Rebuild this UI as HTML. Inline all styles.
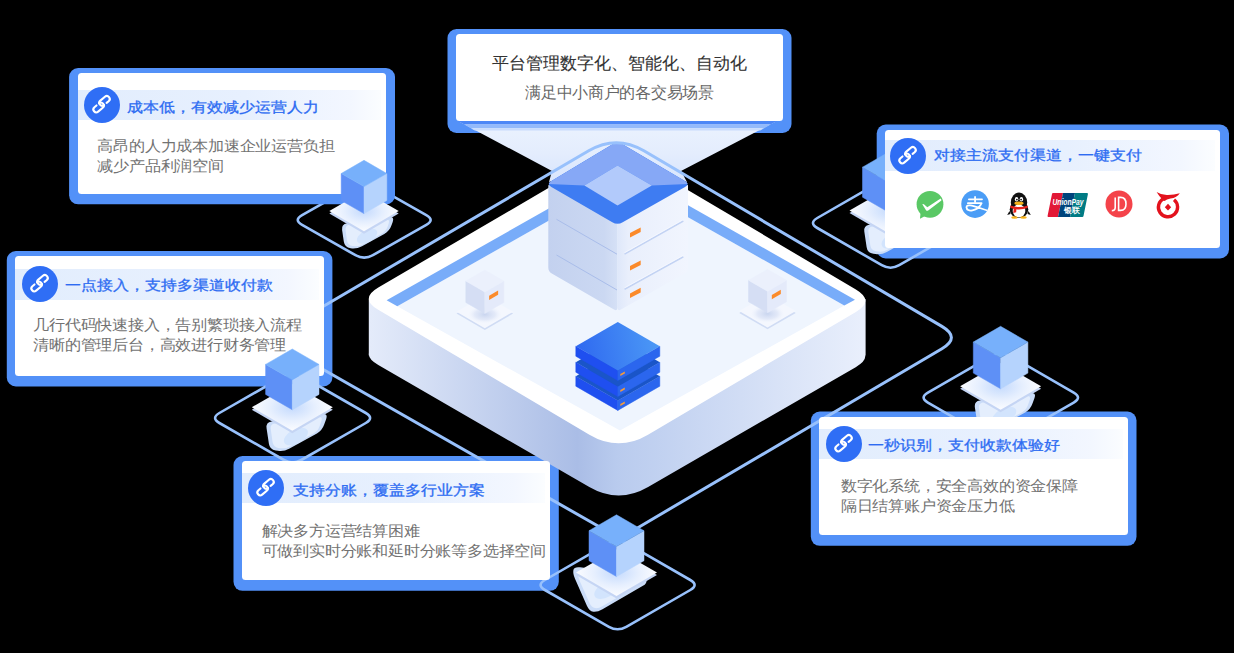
<!DOCTYPE html><html><head><meta charset="utf-8"><style>
*{margin:0;padding:0;box-sizing:border-box}
html,body{width:1234px;height:653px;overflow:hidden;background:#000}
body{position:relative;font-family:"Liberation Sans",sans-serif}
svg.L{position:absolute;left:0;top:0}
.glow{position:absolute;background:#5391f8;border-radius:9px}
.card{position:absolute;background:#fff;border-radius:3.5px;overflow:hidden}
.band{position:absolute;left:0;right:5px;background:linear-gradient(90deg,#e2edfd 0%,#e7f0fe 55%,#f3f7ff 90%,#fbfdff 100%)}
.ic{position:absolute;width:36px;height:36px}
.ic svg{display:block}
.title{position:absolute;white-space:nowrap;color:#2d6cf2;font-size:16px;line-height:22px;-webkit-text-stroke:0.35px #2d6cf2;transform:scaleY(0.88);transform-origin:0 50%}
.body{position:absolute;white-space:nowrap;color:#727272;font-size:16px;line-height:21.9px;letter-spacing:-0.2px;transform:scaleY(0.93);transform-origin:0 0}
.tt{position:absolute;left:0;right:0;top:19px;text-align:center;color:#333;font-size:17px;line-height:22px;-webkit-text-stroke:0.1px #333}
.ts{position:absolute;left:0;right:0;top:49px;text-align:center;color:#666;font-size:15.6px;line-height:20px;letter-spacing:-0.3px}
</style></head><body><svg class="L" width="1234" height="653" viewBox="0 0 1234 653"><defs><radialGradient id="wshadow"><stop offset="0" stop-color="#c9d5ef"/><stop offset="0.6" stop-color="#dbe3f6" stop-opacity="0.7"/><stop offset="1" stop-color="#eef3fd" stop-opacity="0"/></radialGradient><radialGradient id="slabg" cx="0.5" cy="0.5" r="0.5"><stop offset="0" stop-color="#c4dafd"/><stop offset="0.55" stop-color="#e6effe"/><stop offset="1" stop-color="#fbfcff"/></radialGradient><linearGradient id="side" x1="370" y1="0" x2="864" y2="0" gradientUnits="userSpaceOnUse"><stop offset="0" stop-color="#e4ebfa"/><stop offset="0.42" stop-color="#aabde6"/><stop offset="0.5" stop-color="#b9cbee"/><stop offset="1" stop-color="#e9effc"/></linearGradient><linearGradient id="beam" x1="0" y1="130" x2="0" y2="175" gradientUnits="userSpaceOnUse"><stop offset="0" stop-color="#e9f1fe"/><stop offset="0.5" stop-color="#e4edfd"/><stop offset="1" stop-color="#dbe7fd"/></linearGradient><linearGradient id="srvL" x1="548" y1="0" x2="618" y2="0" gradientUnits="userSpaceOnUse"><stop offset="0" stop-color="#c3d1ef"/><stop offset="0.8" stop-color="#cbd8f2"/><stop offset="1" stop-color="#d6e1f6"/></linearGradient><linearGradient id="srvR" x1="618" y1="0" x2="688" y2="0" gradientUnits="userSpaceOnUse"><stop offset="0" stop-color="#dfe8fa"/><stop offset="0.15" stop-color="#e9effc"/><stop offset="1" stop-color="#f1f5fe"/></linearGradient><clipPath id="srvtop"><path d="M622.7,144.2 L685.0,181.0 Q690.2,184.0 685.0,187.0 L622.7,222.3 Q617.5,225.3 612.3,222.3 L551.4,187.0 Q546.2,184.0 551.3,180.9 L612.4,144.3 Q617.5,141.2 622.7,144.2 Z"/></clipPath><linearGradient id="bsT" x1="576" y1="346" x2="660" y2="330" gradientUnits="userSpaceOnUse"><stop offset="0" stop-color="#2f69f0"/><stop offset="1" stop-color="#4d9bf6"/></linearGradient></defs><rect x="447.5" y="29.0" width="344.0" height="104.0" rx="9" fill="#5391f8"/><rect x="876.7" y="124.5" width="352.3" height="134.0" rx="9" fill="#5391f8"/><rect x="6.8" y="251.0" width="325.6" height="135.5" rx="9" fill="#5391f8"/><rect x="233.5" y="456.0" width="325.3" height="134.8" rx="9" fill="#5391f8"/><rect x="810.8" y="411.5" width="325.7" height="134.3" rx="9" fill="#5391f8"/><path d="M635.7,214.7 L855.9,345.0 Q874.8,356.2 855.7,367.2 L648.1,487.0 Q618.7,504.0 589.3,487.0 L378.3,365.1 Q359.3,354.1 378.3,343.0 L597.8,214.6 Q616.8,203.5 635.7,214.7 Z" fill="url(#side)"/><rect x="368.8" y="299" width="496.8" height="56.5" fill="url(#side)"/><path d="M635.7,159.2 L855.9,289.5 Q874.8,300.7 855.9,311.9 L648.0,434.7 Q618.7,452.0 589.4,434.7 L378.2,309.8 Q359.3,298.6 378.3,287.5 L597.8,159.1 Q616.8,148.0 635.7,159.2 Z" fill="#ffffff"/><polygon points="397.3,306.3 621.3,179.5 844.3,305.6 620.0,430.5" fill="#eff5fe"/><polygon points="386.6,300.3 621.3,167.5 855.0,299.7 844.3,305.6 621.3,179.5 397.3,306.3" fill="#78acf9"/><polygon points="484.8,297.2 513.1,313.6 484.8,330.0 456.5,313.6" fill="#d0dcf4"/><polygon points="484.8,295.4 513.1,311.8 484.8,328.2 456.5,311.8" fill="#f4f7fe"/><ellipse cx="484.8" cy="314.4393" rx="17" ry="9" fill="url(#wshadow)"/><polygon points="465.8,281.0 484.8,291.9 484.8,313.4 465.8,302.5" fill="#d5def4" stroke="#d5def4" stroke-width="0.5" stroke-linejoin="round"/><polygon points="484.8,291.9 503.8,281.0 503.8,302.5 484.8,313.4" fill="#e4eafa" stroke="#e4eafa" stroke-width="0.5" stroke-linejoin="round"/><polygon points="484.8,270.0 503.8,281.0 484.8,291.9 465.8,281.0" fill="#ebf0fc" stroke="#ebf0fc" stroke-width="0.5" stroke-linejoin="round"/><polygon points="489.1,300.0 498.1,294.8 498.1,290.5 489.1,295.7" fill="#fb8b2b"/><polygon points="767.5,296.5 795.8,312.9 767.5,329.3 739.2,312.9" fill="#d0dcf4"/><polygon points="767.5,294.7 795.8,311.1 767.5,327.5 739.2,311.1" fill="#f4f7fe"/><ellipse cx="767.5" cy="313.7393" rx="17" ry="9" fill="url(#wshadow)"/><polygon points="748.5,280.3 767.5,291.2 767.5,312.7 748.5,301.8" fill="#d5def4" stroke="#d5def4" stroke-width="0.5" stroke-linejoin="round"/><polygon points="767.5,291.2 786.5,280.3 786.5,301.8 767.5,312.7" fill="#e4eafa" stroke="#e4eafa" stroke-width="0.5" stroke-linejoin="round"/><polygon points="767.5,269.3 786.5,280.3 767.5,291.2 748.5,280.3" fill="#ebf0fc" stroke="#ebf0fc" stroke-width="0.5" stroke-linejoin="round"/><polygon points="771.8,299.3 780.8,294.1 780.8,289.8 771.8,295.0" fill="#fb8b2b"/><polygon points="459.0,121.5 776.0,121.5 681.0,171.0 687.0,182.0 617.0,165.0 549.0,182.0 552.0,171.0" fill="url(#beam)"/><polygon points="458,121 777,121 770.6,124.6 464.4,124.6" fill="#4c87f6"/><polygon points="464.4,124.6 770.6,124.6 764.2,128.2 470.8,128.2" fill="#93bafb"/><polygon points="470.8,128.2 764.2,128.2 760.3,130.4 474.7,130.4" fill="#c9dcfc"/><path d="M550.0,185.0 L617.5,223.9 Q617.5,223.9 617.5,223.9 L617.5,307.5 Q617.5,311.5 614.0,309.5 L551.8,273.6 Q548.3,271.6 548.3,267.6 L548.3,186.0 Q548.3,184.0 550.0,185.0 Z" fill="url(#srvL)"/><path d="M617.5,223.9 L686.3,185.0 Q688.0,184.0 688.0,186.0 L688.0,267.6 Q688.0,271.6 684.5,273.6 L621.0,309.5 Q617.5,311.5 617.5,307.5 L617.5,223.9 Q617.5,223.9 617.5,223.9 Z" fill="url(#srvR)"/><line x1="556.5" y1="219.3" x2="617" y2="254.2" stroke="#a9bdea" stroke-width="1"/><line x1="624.5" y1="254.10000000000002" x2="683.3" y2="221.0" stroke="#c3d3f3" stroke-width="1.6"/><line x1="624.5" y1="252.70000000000002" x2="683.3" y2="219.6" stroke="#f6f9ff" stroke-width="0.8"/><line x1="556.5" y1="255" x2="617" y2="290" stroke="#a9bdea" stroke-width="1"/><line x1="624.5" y1="289.3" x2="683.3" y2="256.8" stroke="#c3d3f3" stroke-width="1.6"/><line x1="624.5" y1="287.9" x2="683.3" y2="255.4" stroke="#f6f9ff" stroke-width="0.8"/><polygon points="630.0,237.6 630.0,233.0 640.7,227.4 640.7,232.0" fill="#fb8a2a"/><polygon points="630.0,270.6 630.0,266.0 640.7,260.4 640.7,265.0" fill="#fb8a2a"/><polygon points="630.0,298.0 630.0,293.4 640.7,287.8 640.7,292.4" fill="#fb8a2a"/><path d="M622.7,144.2 L685.0,181.0 Q690.2,184.0 685.0,187.0 L622.7,222.3 Q617.5,225.3 612.3,222.3 L551.4,187.0 Q546.2,184.0 551.3,180.9 L612.4,144.3 Q617.5,141.2 622.7,144.2 Z" fill="#3e7cf2"/><polygon points="546.2,184.0 617.5,141.2 690.2,184.0 651.8,185.5 617.5,165.6 584.4,185.5" fill="#86a8f6" clip-path="url(#srvtop)"/><polygon points="617.5,165.6 651.8,185.5 617.5,205.4 584.4,185.5" fill="#b2cafb"/><polygon points="575.8,376.2 617.8,400.4 617.8,410.4 575.8,386.2" fill="#1f4ff0" stroke="#1f4ff0" stroke-width="0.5"/><polygon points="617.8,400.4 659.8,376.2 659.8,386.2 617.8,410.4" fill="#2b66ee" stroke="#2b66ee" stroke-width="0.5"/><polygon points="617.8,352.0 659.8,376.2 617.8,400.4 575.8,376.2" fill="#1a55c8"/><polygon points="620.3,406.1 624.8,403.5 624.8,401.5 620.3,404.1" fill="#f29a3c"/><polygon points="575.8,362.2 617.8,386.4 617.8,396.4 575.8,372.2" fill="#1f4ff0" stroke="#1f4ff0" stroke-width="0.5"/><polygon points="617.8,386.4 659.8,362.2 659.8,372.2 617.8,396.4" fill="#2b66ee" stroke="#2b66ee" stroke-width="0.5"/><polygon points="617.8,338.0 659.8,362.2 617.8,386.4 575.8,362.2" fill="#1a55c8"/><polygon points="620.3,392.1 624.8,389.5 624.8,387.5 620.3,390.1" fill="#f29a3c"/><polygon points="575.8,346.2 617.8,370.4 617.8,380.4 575.8,356.2" fill="#1f4ff0" stroke="#1f4ff0" stroke-width="0.5"/><polygon points="617.8,370.4 659.8,346.2 659.8,356.2 617.8,380.4" fill="#2b66ee" stroke="#2b66ee" stroke-width="0.5"/><polygon points="617.8,322.0 659.8,346.2 617.8,370.4 575.8,346.2" fill="url(#bsT)"/><polygon points="620.3,376.1 624.8,373.5 624.8,371.5 620.3,374.1" fill="#f29a3c"/><path d="M643.9,150.8 L941.9,326.4 Q960.9,337.6 941.9,348.8 L638.7,527.2 Q619.7,538.4 600.6,527.5 L287.7,349.3 Q268.6,338.4 287.6,327.3 L588.7,150.8 Q616.3,134.6 643.9,150.8 Z" fill="none" stroke="#98c1fc" stroke-width="3"/><path d="M372.9,184.8 L426.3,215.1 Q435.0,220.0 426.3,224.9 L372.9,255.2 Q364.2,260.1 355.5,255.2 L302.1,224.9 Q293.4,220.0 302.1,215.1 L355.5,184.8 Q364.2,179.9 372.9,184.8 Z" fill="none" stroke="#98c1fc" stroke-width="2.6"/><path d="M899.2,180.8 L963.7,218.0 Q972.3,223.0 963.7,228.0 L899.2,265.2 Q890.5,270.2 881.8,265.2 L817.3,228.0 Q808.7,223.0 817.3,218.0 L881.8,180.8 Q890.5,175.8 899.2,180.8 Z" fill="none" stroke="#98c1fc" stroke-width="2.6"/><path d="M301.3,376.0 L365.8,413.0 Q374.4,418.0 365.8,423.0 L301.3,460.0 Q292.6,465.0 283.9,460.0 L219.4,423.0 Q210.8,418.0 219.4,413.0 L283.9,376.0 Q292.6,371.0 301.3,376.0 Z" fill="none" stroke="#98c1fc" stroke-width="2.6"/><path d="M626.3,543.2 L690.3,580.0 Q698.9,585.0 690.3,590.0 L626.3,626.8 Q617.6,631.8 608.9,626.8 L544.9,590.0 Q536.3,585.0 544.9,580.0 L608.9,543.2 Q617.6,538.2 626.3,543.2 Z" fill="none" stroke="#98c1fc" stroke-width="2.6"/><path d="M1009.5,355.6 L1073.7,392.6 Q1082.3,397.6 1073.7,402.6 L1009.5,439.6 Q1000.8,444.6 992.1,439.6 L927.9,402.6 Q919.3,397.6 927.9,392.6 L992.1,355.6 Q1000.8,350.6 1009.5,355.6 Z" fill="none" stroke="#98c1fc" stroke-width="2.6"/><rect x="69.1" y="68.0" width="325.9" height="136.3" rx="9" fill="#5391f8"/><path d="M869.3,224.8 L919.9,217.5 Q925.9,216.6 923.9,222.3 L921.8,228.1 Q919.8,233.7 914.6,236.6 L886.8,252.0 Q881.5,254.9 875.6,254.0 L873.4,253.7 Q867.4,252.9 866.6,246.9 L864.3,231.6 Q863.4,225.7 869.3,224.8 Z" fill="#cadcf8"/><path d="M872.6,226.6 L915.8,220.3 Q920.7,219.6 919.1,224.3 L917.3,229.5 Q915.6,234.2 911.2,236.6 L887.4,249.7 Q883.0,252.2 878.1,251.5 L876.0,251.2 Q871.1,250.4 870.3,245.5 L868.4,232.3 Q867.6,227.3 872.6,226.6 Z" fill="#e4eefd"/><ellipse cx="893.6" cy="239.8" rx="13.1" ry="7.1" fill="#d2e4fd" transform="rotate(-28 893.6 239.8)"/><polygon points="890.0,189.7 930.5,213.1 890.0,236.4 849.5,213.1" fill="#c5d5f4"/><polygon points="890.0,187.2 930.5,210.6 890.0,233.9 849.5,210.6" fill="url(#slabg)"/><polygon points="862.5,167.2 890.0,183.1 890.0,213.1 862.5,197.2" fill="#5e90f6" stroke="#5e90f6" stroke-width="0.5" stroke-linejoin="round"/><polygon points="890.0,183.1 917.5,167.2 917.5,197.2 890.0,213.1" fill="#b5d3fd" stroke="#b5d3fd" stroke-width="0.5" stroke-linejoin="round"/><polygon points="890.0,151.3 917.5,167.2 890.0,183.1 862.5,167.2" fill="#77b0fb" stroke="#77b0fb" stroke-width="0.5" stroke-linejoin="round"/><path d="M979.9,400.6 L1030.5,393.2 Q1036.5,392.4 1034.5,398.0 L1032.4,403.8 Q1030.4,409.5 1025.2,412.4 L997.4,427.7 Q992.1,430.7 986.2,429.8 L984.0,429.5 Q978.0,428.6 977.2,422.7 L974.9,407.4 Q974.0,401.4 979.9,400.6 Z" fill="#cadcf8"/><path d="M983.2,402.4 L1026.4,396.1 Q1031.3,395.4 1029.7,400.1 L1027.9,405.2 Q1026.2,409.9 1021.8,412.4 L998.0,425.5 Q993.6,427.9 988.7,427.2 L986.6,426.9 Q981.7,426.2 980.9,421.3 L979.0,408.0 Q978.2,403.1 983.2,402.4 Z" fill="#e4eefd"/><ellipse cx="1004.2" cy="415.5" rx="13.1" ry="7.1" fill="#d2e4fd" transform="rotate(-28 1004.2 415.5)"/><polygon points="1000.6,365.4 1041.1,388.8 1000.6,412.2 960.1,388.8" fill="#c5d5f4"/><polygon points="1000.6,362.9 1041.1,386.3 1000.6,409.7 960.1,386.3" fill="url(#slabg)"/><polygon points="973.3,342.1 1000.6,357.8 1000.6,388.8 973.3,373.1" fill="#5e90f6" stroke="#5e90f6" stroke-width="0.5" stroke-linejoin="round"/><polygon points="1000.6,357.8 1027.9,342.1 1027.9,373.1 1000.6,388.8" fill="#b5d3fd" stroke="#b5d3fd" stroke-width="0.5" stroke-linejoin="round"/><polygon points="1000.6,326.3 1027.9,342.1 1000.6,357.8 973.3,342.1" fill="#77b0fb" stroke="#77b0fb" stroke-width="0.5" stroke-linejoin="round"/></svg><div class="card" style="left:456.0px;top:34.0px;width:327.0px;height:87.0px"><div class="tt">平台管理数字化、智能化、自动化</div><div class="ts">满足中小商户的各交易场景</div></div><div class="card" style="left:77.6px;top:73.0px;width:308.9px;height:120.8px"><div class="band" style="top:16.7px;height:30.2px"></div><div class="ic" style="left:6.4px;top:14.2px"><svg class="lk" width="36" height="36" viewBox="0 0 36 36"><circle cx="18" cy="18" r="18" fill="#2f6ef5"/><g fill="none" stroke="#fff" stroke-width="2.1" stroke-linecap="round"><path transform="translate(20.5 13.9) rotate(-40)" d="M0.3,2.9 H3 A2.9,2.9 0 0 0 3,-2.9 H-3 A2.9,2.9 0 0 0 -3,2.9"/><path transform="translate(14.6 20.5) rotate(-40)" d="M-0.3,-2.9 H-3 A2.9,2.9 0 0 0 -3,2.9 H3 A2.9,2.9 0 0 0 3,-2.9"/></g></svg></div><div class="title" style="left:49.4px;top:24.0px">成本低，有效减少运营人力</div><div class="body" style="left:19.9px;top:63.0px">高昂的人力成本加速企业运营负担<br>减少产品利润空间</div></div><div class="card" style="left:885.2px;top:129.5px;width:335.3px;height:118.5px"><div class="band" style="top:10.7px;height:30.6px"></div><div class="ic" style="left:4.8px;top:8.3px"><svg class="lk" width="36" height="36" viewBox="0 0 36 36"><circle cx="18" cy="18" r="18" fill="#2f6ef5"/><g fill="none" stroke="#fff" stroke-width="2.1" stroke-linecap="round"><path transform="translate(20.5 13.9) rotate(-40)" d="M0.3,2.9 H3 A2.9,2.9 0 0 0 3,-2.9 H-3 A2.9,2.9 0 0 0 -3,2.9"/><path transform="translate(14.6 20.5) rotate(-40)" d="M-0.3,-2.9 H-3 A2.9,2.9 0 0 0 -3,2.9 H3 A2.9,2.9 0 0 0 3,-2.9"/></g></svg></div><div class="title" style="left:49.2px;top:15.9px">对接主流支付渠道，一键支付</div><svg style="position:absolute;left:29.5px;top:60.0px" width="30" height="30" viewBox="0 0 30 30"><circle cx="15" cy="14.3" r="13.4" fill="#5ac865"/><path d="M5.5,23 L5,28.8 L11,25.5 Z" fill="#5ac865"/><path d="M7.3,14.2 Q8.3,13.6 9.2,14.4 L12.3,17.2 L25.6,8.6 Q26.6,9.4 26.4,10.6 L13.2,20.4 Q12,21.3 11,20.3 Z" fill="#fff"/></svg><svg style="position:absolute;left:74.7px;top:59.8px" width="30" height="30" viewBox="0 0 30 30"><defs><clipPath id="alic"><circle cx="15.07" cy="15.1" r="13.8"/></clipPath></defs><circle cx="15.07" cy="15.1" r="13.8" fill="#4b9df6"/><g fill="none" stroke="#fff" stroke-width="1.8" stroke-linecap="round" stroke-linejoin="round" clip-path="url(#alic)"><path d="M8.9,10.3 H22"/><path d="M15.07,8 V13"/><path d="M7.9,14.2 H21.6 C20.4,17 17,20.6 12.4,21.4 C9,22 6.6,20.8 6.5,18.4 C6.4,16.6 8.2,16.2 10.2,16.4 C13.5,16.8 16,17.8 29,22"/></g></svg><svg style="position:absolute;left:120.4px;top:61.7px" width="26" height="28" viewBox="0 0 26 28"><ellipse cx="13" cy="11.5" rx="8.2" ry="10" fill="#111"/><ellipse cx="13" cy="18.5" rx="9.3" ry="8.6" fill="#111"/><ellipse cx="13" cy="20" rx="6.3" ry="6.5" fill="#fff"/><path d="M3.5,20 L1.2,24 L4.5,23 Z M22.5,20 L24.8,24 L21.5,23 Z" fill="#111"/><ellipse cx="10.6" cy="8.2" rx="1.7" ry="2.3" fill="#fff"/><ellipse cx="15.4" cy="8.2" rx="1.7" ry="2.3" fill="#fff"/><circle cx="10.9" cy="8.6" r="0.9" fill="#111"/><circle cx="15.1" cy="8.6" r="0.9" fill="#111"/><ellipse cx="13" cy="12.3" rx="4.6" ry="1.8" fill="#f7b21a"/><path d="M4.3,14.5 Q13,17.5 21.7,14.5 L21.5,17 Q13,19.8 4.5,17 Z" fill="#e8221b"/><path d="M8,16.5 L7.2,22 L10.2,21.2 L10.4,17.2 Z" fill="#e8221b"/><ellipse cx="8.5" cy="26.5" rx="3.2" ry="1.2" fill="#f7b21a"/><ellipse cx="17.5" cy="26.5" rx="3.2" ry="1.2" fill="#f7b21a"/></svg><svg style="position:absolute;left:161.8px;top:62.8px" width="42" height="26" viewBox="0 0 42 26"><path d="M6,1 H16 L11,25 H1.5 Q0.3,25 0.6,23.8 L5,2 Q5.2,1 6,1 Z" fill="#e21836"/><path d="M16,1 H28 L23,25 H11 Z" fill="#00447c"/><path d="M28,1 H40 Q41.2,1 40.9,2.2 L36.5,24 Q36.3,25 35.3,25 H23 Z" fill="#007b84"/><text x="5.5" y="13.4" font-family="Liberation Sans" font-style="italic" font-weight="bold" font-size="8.6" fill="#fff" textLength="31" lengthAdjust="spacingAndGlyphs">UnionPay</text><text x="16.8" y="21" font-family="Liberation Sans" font-weight="bold" font-size="7.6" fill="#fff" textLength="15.5" lengthAdjust="spacingAndGlyphs">银联</text></svg><svg style="position:absolute;left:220.2px;top:60.8px" width="28" height="28" viewBox="0 0 28 28"><circle cx="14" cy="14" r="13.5" fill="#f4434a"/><g fill="none" stroke="#fff" stroke-width="1.6"><path d="M10.2,7.4 V17.4 Q10.2,20.6 6.8,20.6"/><path d="M13.6,7.4 V20.4 H15.6 Q21,20.4 21,13.9 Q21,7.4 15.6,7.4 Z"/></g></svg><svg style="position:absolute;left:268.4px;top:61.2px" width="28" height="30" viewBox="0 0 28 30"><path d="M2.6,1 Q8,4.4 14,4 Q20,3.6 25.8,2.2 Q23,6.6 16.5,7.6 Q12.5,8.2 10.6,10 L8.4,8.6 Q5.6,5.8 2.6,1 Z" fill="#e3121d"/><path d="M20.04,8.74 A9.6,9.6 0 1 1 9.94,7.5" fill="none" stroke="#e3121d" stroke-width="3.4"/><path d="M14,12.8 L17.2,16.2 L14,19.6 L10.8,16.2 Z" fill="#e3121d"/></svg></div><div class="card" style="left:15.3px;top:256.0px;width:308.6px;height:120.0px"><div class="band" style="top:13.3px;height:30.3px"></div><div class="ic" style="left:6.4px;top:10.0px"><svg class="lk" width="36" height="36" viewBox="0 0 36 36"><circle cx="18" cy="18" r="18" fill="#2f6ef5"/><g fill="none" stroke="#fff" stroke-width="2.1" stroke-linecap="round"><path transform="translate(20.5 13.9) rotate(-40)" d="M0.3,2.9 H3 A2.9,2.9 0 0 0 3,-2.9 H-3 A2.9,2.9 0 0 0 -3,2.9"/><path transform="translate(14.6 20.5) rotate(-40)" d="M-0.3,-2.9 H-3 A2.9,2.9 0 0 0 -3,2.9 H3 A2.9,2.9 0 0 0 3,-2.9"/></g></svg></div><div class="title" style="left:49.3px;top:19.4px">一点接入，支持多渠道收付款</div><div class="body" style="left:17.9px;top:59.4px">几行代码快速接入，告别繁琐接入流程<br>清晰的管理后台，高效进行财务管理</div></div><div class="card" style="left:242.0px;top:461.0px;width:308.3px;height:119.3px"><div class="band" style="top:11.8px;height:30.6px"></div><div class="ic" style="left:6.4px;top:9.4px"><svg class="lk" width="36" height="36" viewBox="0 0 36 36"><circle cx="18" cy="18" r="18" fill="#2f6ef5"/><g fill="none" stroke="#fff" stroke-width="2.1" stroke-linecap="round"><path transform="translate(20.5 13.9) rotate(-40)" d="M0.3,2.9 H3 A2.9,2.9 0 0 0 3,-2.9 H-3 A2.9,2.9 0 0 0 -3,2.9"/><path transform="translate(14.6 20.5) rotate(-40)" d="M-0.3,-2.9 H-3 A2.9,2.9 0 0 0 -3,2.9 H3 A2.9,2.9 0 0 0 3,-2.9"/></g></svg></div><div class="title" style="left:51.4px;top:18.6px">支持分账，覆盖多行业方案</div><div class="body" style="left:19.5px;top:60.2px">解决多方运营结算困难<br>可做到实时分账和延时分账等多选择空间</div></div><div class="card" style="left:819.3px;top:416.5px;width:308.7px;height:118.8px"><div class="band" style="top:12.5px;height:30.0px"></div><div class="ic" style="left:6.4px;top:9.5px"><svg class="lk" width="36" height="36" viewBox="0 0 36 36"><circle cx="18" cy="18" r="18" fill="#2f6ef5"/><g fill="none" stroke="#fff" stroke-width="2.1" stroke-linecap="round"><path transform="translate(20.5 13.9) rotate(-40)" d="M0.3,2.9 H3 A2.9,2.9 0 0 0 3,-2.9 H-3 A2.9,2.9 0 0 0 -3,2.9"/><path transform="translate(14.6 20.5) rotate(-40)" d="M-0.3,-2.9 H-3 A2.9,2.9 0 0 0 -3,2.9 H3 A2.9,2.9 0 0 0 3,-2.9"/></g></svg></div><div class="title" style="left:49.1px;top:18.8px">一秒识别，支付收款体验好</div><div class="body" style="left:21.5px;top:59.5px">数字化系统，安全高效的资金保障<br>隔日结算账户资金压力低</div></div><svg class="L" width="1234" height="653" viewBox="0 0 1234 653"><path d="M347.1,223.2 L388.8,217.2 Q394.7,216.3 392.7,222.0 L391.5,225.3 Q389.6,231.0 384.3,233.9 L362.0,246.2 Q356.7,249.1 350.8,248.3 L350.6,248.2 Q344.7,247.4 343.8,241.4 L342.1,230.0 Q341.2,224.1 347.1,223.2 Z" fill="#cadcf8"/><path d="M349.8,224.8 L385.4,219.6 Q390.3,218.9 388.7,223.6 L387.6,226.7 Q385.9,231.4 381.5,233.8 L362.4,244.4 Q358.0,246.8 353.1,246.1 L352.7,246.0 Q347.8,245.3 347.0,240.4 L345.6,230.4 Q344.8,225.5 349.8,224.8 Z" fill="#e4eefd"/><ellipse cx="367.1" cy="236.2" rx="11.2" ry="6.0" fill="#d2e4fd" transform="rotate(-28 367.1 236.2)"/><polygon points="364.0,193.6 398.7,213.6 364.0,233.7 329.3,213.6" fill="#c5d5f4"/><polygon points="364.0,191.1 398.7,211.1 364.0,231.2 329.3,211.1" fill="url(#slabg)"/><polygon points="341.2,173.5 364.0,186.6 364.0,213.6 341.2,200.5" fill="#5e90f6" stroke="#5e90f6" stroke-width="0.5" stroke-linejoin="round"/><polygon points="364.0,186.6 386.8,173.5 386.8,200.5 364.0,213.6" fill="#b5d3fd" stroke="#b5d3fd" stroke-width="0.5" stroke-linejoin="round"/><polygon points="364.0,160.3 386.8,173.5 364.0,186.6 341.2,173.5" fill="#77b0fb" stroke="#77b0fb" stroke-width="0.5" stroke-linejoin="round"/><path d="M271.6,421.6 L322.2,414.2 Q328.2,413.4 326.2,419.0 L324.1,424.8 Q322.1,430.5 316.9,433.4 L289.1,448.8 Q283.8,451.7 277.9,450.8 L275.7,450.5 Q269.7,449.6 268.9,443.7 L266.6,428.4 Q265.7,422.4 271.6,421.6 Z" fill="#cadcf8"/><path d="M274.9,423.4 L318.1,417.1 Q323.0,416.4 321.4,421.1 L319.6,426.2 Q317.9,431.0 313.5,433.4 L289.7,446.5 Q285.3,448.9 280.4,448.2 L278.3,447.9 Q273.4,447.2 272.6,442.3 L270.7,429.1 Q269.9,424.1 274.9,423.4 Z" fill="#e4eefd"/><ellipse cx="295.9" cy="436.5" rx="13.1" ry="7.1" fill="#d2e4fd" transform="rotate(-28 295.9 436.5)"/><polygon points="292.3,386.4 332.8,409.8 292.3,433.2 251.8,409.8" fill="#c5d5f4"/><polygon points="292.3,383.9 332.8,407.3 292.3,430.7 251.8,407.3" fill="url(#slabg)"/><polygon points="265.6,364.4 292.3,379.8 292.3,409.8 265.6,394.4" fill="#5e90f6" stroke="#5e90f6" stroke-width="0.5" stroke-linejoin="round"/><polygon points="292.3,379.8 319.0,364.4 319.0,394.4 292.3,409.8" fill="#b5d3fd" stroke="#b5d3fd" stroke-width="0.5" stroke-linejoin="round"/><polygon points="292.3,349.0 319.0,364.4 292.3,379.8 265.6,364.4" fill="#77b0fb" stroke="#77b0fb" stroke-width="0.5" stroke-linejoin="round"/><path d="M573.4,570.0 L573.4,570.0 Q572.7,573.6 575.1,579.1 L586.9,605.8 Q589.3,611.3 593.3,611.8 L593.3,611.8 Q597.4,612.3 602.5,609.3 L642.5,586.1 Q647.7,583.1 646.2,579.4 L646.2,579.4 Q644.7,575.6 638.8,574.8 L580.1,567.3 Q574.2,566.5 573.4,570.0 Z" fill="#cadcf8"/><path d="M578.1,572.6 L578.1,572.6 Q577.4,575.6 579.4,580.2 L589.5,603.1 Q591.6,607.7 595.0,608.1 L595.0,608.1 Q598.4,608.6 602.7,606.0 L636.9,586.2 Q641.2,583.7 639.9,580.5 L639.9,580.5 Q638.7,577.3 633.7,576.7 L583.7,570.2 Q578.7,569.6 578.1,572.6 Z" fill="#e4eefd"/><ellipse cx="606.3" cy="590.1" rx="13.1" ry="7.1" fill="#d2e4fd" transform="rotate(-28 606.3 590.1)"/><polygon points="616.5,551.7 657.0,575.1 616.5,598.4 576.0,575.1" fill="#c5d5f4"/><polygon points="616.5,549.2 657.0,572.6 616.5,595.9 576.0,572.6" fill="url(#slabg)"/><polygon points="589.0,530.7 616.5,546.6 616.5,576.6 589.0,560.7" fill="#5e90f6" stroke="#5e90f6" stroke-width="0.5" stroke-linejoin="round"/><polygon points="616.5,546.6 644.0,530.7 644.0,560.7 616.5,576.6" fill="#b5d3fd" stroke="#b5d3fd" stroke-width="0.5" stroke-linejoin="round"/><polygon points="616.5,514.8 644.0,530.7 616.5,546.6 589.0,530.7" fill="#77b0fb" stroke="#77b0fb" stroke-width="0.5" stroke-linejoin="round"/></svg></body></html>
